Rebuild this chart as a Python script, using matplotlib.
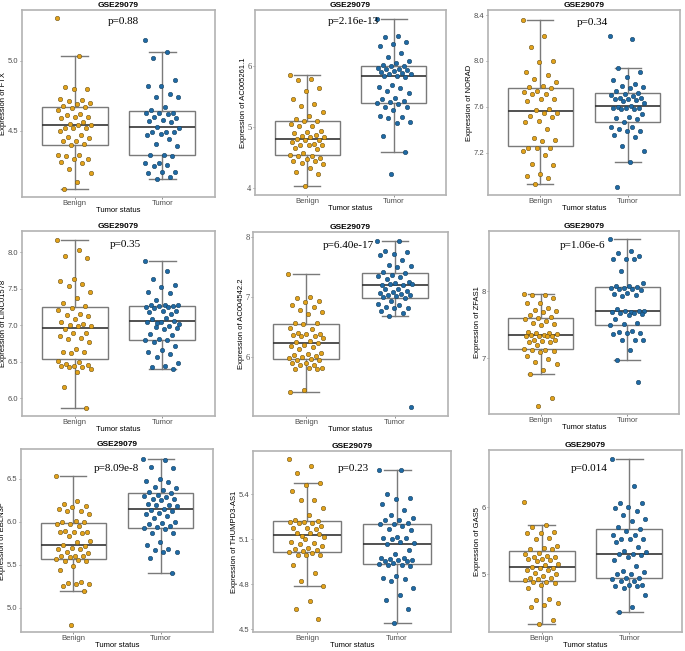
import numpy as np
import matplotlib
matplotlib.use("Agg")
from matplotlib import pyplot as plt
from matplotlib.ticker import FormatStrFormatter

DATASET = "GSE29079"
GROUPS = ["Benign", "Tumor"]
GENES = ["FTX", "AC005261.1", "NORAD", "LINC01578", "AC004542.2",
         "ZFAS1", "EBLN3P", "THUMPD3-AS1", "GAS5"]
P_VALUES = ["p=0.88", "p=2.16e-13", "p=0.34", "p=0.35", "p=6.40e-17",
            "p=1.06e-6", "p=8.09e-8", "p=0.23", "p=0.014"]

FTX_BENIGN = [5.30, 5.03, 4.81, 4.80, 4.80, 4.73, 4.72, 4.71, 4.70, 4.69, 4.68, 4.67,
              4.66, 4.65, 4.62, 4.61, 4.60, 4.60, 4.59, 4.56, 4.55, 4.54, 4.54, 4.52,
              4.52, 4.52, 4.50, 4.47, 4.46, 4.45, 4.43, 4.43, 4.41, 4.40, 4.33, 4.33,
              4.32, 4.30, 4.30, 4.28, 4.27, 4.23, 4.20, 4.14, 4.09]
FTX_TUMOR = [5.15, 5.06, 5.02, 4.86, 4.82, 4.82, 4.76, 4.74, 4.74, 4.67, 4.65, 4.63,
             4.63, 4.63, 4.62, 4.60, 4.59, 4.58, 4.57, 4.56, 4.53, 4.52, 4.49, 4.49,
             4.49, 4.48, 4.47, 4.44, 4.41, 4.39, 4.33, 4.33, 4.32, 4.27, 4.27, 4.26,
             4.25, 4.21, 4.21, 4.20, 4.17, 4.16]

AC005261_BENIGN = [5.85, 5.78, 5.76, 5.64, 5.59, 5.45, 5.38, 5.35, 5.24, 5.18, 5.13, 5.10,
                   5.09, 5.05, 5.02, 5.01, 4.94, 4.92, 4.91, 4.87, 4.85, 4.84, 4.84, 4.80,
                   4.79, 4.78, 4.76, 4.72, 4.71, 4.71, 4.70, 4.65, 4.64, 4.58, 4.55, 4.53,
                   4.52, 4.49, 4.47, 4.45, 4.44, 4.42, 4.39, 4.33, 4.27, 4.24, 4.03]
AC005261_TUMOR = [6.77, 6.49, 6.47, 6.38, 6.36, 6.33, 6.20, 6.15, 6.07, 6.04, 6.02, 6.00,
                  5.99, 5.97, 5.95, 5.94, 5.93, 5.92, 5.90, 5.88, 5.87, 5.86, 5.84, 5.83,
                  5.81, 5.69, 5.65, 5.64, 5.58, 5.55, 5.48, 5.45, 5.42, 5.40, 5.39, 5.38,
                  5.32, 5.32, 5.28, 5.18, 5.16, 5.15, 5.08, 5.07, 4.86, 4.59, 4.24]

NORAD_BENIGN = [8.36, 8.22, 8.12, 8.00, 7.99, 7.90, 7.88, 7.84, 7.82, 7.78, 7.77, 7.76,
                7.74, 7.73, 7.71, 7.71, 7.67, 7.67, 7.65, 7.58, 7.57, 7.55, 7.55, 7.52,
                7.51, 7.48, 7.47, 7.41, 7.33, 7.31, 7.30, 7.24, 7.24, 7.24, 7.21, 7.18,
                7.10, 7.09, 7.01, 7.00, 6.98, 6.93]
NORAD_TUMOR = [8.22, 8.19, 7.94, 7.90, 7.86, 7.83, 7.80, 7.78, 7.77, 7.76, 7.74, 7.72,
               7.71, 7.70, 7.69, 7.68, 7.68, 7.67, 7.67, 7.66, 7.65, 7.63, 7.61, 7.60,
               7.59, 7.59, 7.59, 7.58, 7.58, 7.54, 7.51, 7.50, 7.49, 7.47, 7.42, 7.42,
               7.41, 7.39, 7.39, 7.35, 7.34, 7.26, 7.21, 7.12, 6.90]

LINC01578_BENIGN = [8.17, 8.03, 7.95, 7.92, 7.64, 7.60, 7.56, 7.54, 7.45, 7.38, 7.30, 7.26,
                    7.24, 7.21, 7.15, 7.14, 7.13, 7.09, 7.05, 7.02, 7.01, 6.99, 6.99, 6.95,
                    6.90, 6.90, 6.85, 6.82, 6.81, 6.77, 6.68, 6.64, 6.63, 6.62, 6.51, 6.50,
                    6.47, 6.46, 6.45, 6.45, 6.43, 6.43, 6.40, 6.36, 6.15, 5.87]
LINC01578_TUMOR = [7.88, 7.74, 7.64, 7.55, 7.52, 7.45, 7.44, 7.35, 7.28, 7.28, 7.28, 7.27,
                   7.26, 7.25, 7.25, 7.24, 7.20, 7.19, 7.18, 7.16, 7.03, 7.02, 7.10, 7.08,
                   7.06, 7.05, 7.04, 6.99, 6.98, 6.96, 6.95, 6.88, 6.87, 6.81, 6.80, 6.80,
                   6.77, 6.72, 6.66, 6.63, 6.61, 6.57, 6.49, 6.45, 6.43, 6.40]

AC004542_BENIGN = [7.38, 7.00, 6.98, 6.94, 6.92, 6.86, 6.84, 6.78, 6.75, 6.72, 6.57, 6.56,
                   6.55, 6.49, 6.47, 6.40, 6.39, 6.38, 6.37, 6.35, 6.35, 6.32, 6.27, 6.25,
                   6.23, 6.20, 6.18, 6.16, 6.13, 6.06, 6.04, 6.03, 6.01, 6.00, 5.98, 5.97,
                   5.95, 5.94, 5.90, 5.89, 5.87, 5.86, 5.82, 5.81, 5.79, 5.79, 5.45, 5.42]
AC004542_TUMOR = [7.94, 7.94, 7.77, 7.75, 7.73, 7.70, 7.62, 7.53, 7.52, 7.51, 7.42, 7.40,
                  7.37, 7.35, 7.33, 7.31, 7.25, 7.23, 7.21, 7.20, 7.22, 7.215, 7.14, 7.13,
                  7.11, 7.09, 7.07, 7.06, 7.04, 7.03, 7.02, 7.00, 6.98, 6.93, 6.89, 6.86,
                  6.83, 6.82, 6.81, 6.77, 6.74, 6.68, 5.16]

ZFAS1_BENIGN = [7.96, 7.95, 7.94, 7.90, 7.83, 7.82, 7.75, 7.72, 7.71, 7.69, 7.64, 7.61,
                7.60, 7.58, 7.55, 7.53, 7.52, 7.50, 7.40, 7.38, 7.38, 7.37, 7.35, 7.35,
                7.34, 7.34, 7.33, 7.33, 7.28, 7.27, 7.26, 7.25, 7.24, 7.20, 7.14, 7.13,
                7.13, 7.11, 7.10, 7.04, 6.99, 6.94, 6.92, 6.82, 6.77, 6.40, 6.29]
ZFAS1_TUMOR = [8.78, 8.61, 8.58, 8.53, 8.49, 8.49, 8.48, 8.30, 8.13, 8.08, 8.08, 8.07,
               8.05, 8.05, 8.04, 8.03, 8.02, 7.98, 7.96, 7.94, 7.93, 7.70, 7.69, 7.73,
               7.71, 7.70, 7.69, 7.68, 7.67, 7.66, 7.64, 7.59, 7.53, 7.51, 7.50, 7.41,
               7.39, 7.38, 7.38, 7.37, 7.28, 7.28, 7.28, 7.13, 6.98, 6.64]

EBLN3P_BENIGN = [6.53, 6.24, 6.21, 6.18, 6.17, 6.15, 6.12, 6.12, 6.09, 6.01, 6.00, 6.00,
                 5.97, 5.97, 5.95, 5.89, 5.88, 5.88, 5.88, 5.87, 5.84, 5.78, 5.76, 5.73,
                 5.72, 5.70, 5.69, 5.69, 5.65, 5.64, 5.60, 5.60, 5.60, 5.59, 5.57, 5.56,
                 5.55, 5.54, 5.49, 5.44, 5.30, 5.29, 5.28, 5.28, 5.26, 5.20, 4.80]
EBLN3P_TUMOR = [6.73, 6.72, 6.64, 6.62, 6.50, 6.48, 6.46, 6.40, 6.39, 6.37, 6.35, 6.34,
                6.31, 6.30, 6.29, 6.27, 6.26, 6.25, 6.21, 6.20, 6.19, 6.18, 6.15, 6.14,
                6.13, 6.10, 6.09, 6.07, 6.04, 6.00, 5.99, 5.98, 5.95, 5.94, 5.93, 5.92,
                5.87, 5.87, 5.77, 5.73, 5.68, 5.67, 5.65, 5.65, 5.58, 5.40]

THUMPD3_BENIGN = [5.636, 5.59, 5.546, 5.475, 5.464, 5.42, 5.365, 5.36, 5.31, 5.265, 5.232,
                  5.225, 5.215, 5.215, 5.21, 5.206, 5.19, 5.177, 5.173, 5.168, 5.12, 5.118,
                  5.144, 5.14, 5.133, 5.10, 5.085, 5.073, 5.069, 5.056, 5.04, 5.036, 5.03,
                  5.023, 5.016, 5.007, 4.994, 4.994, 4.992, 4.926, 4.877, 4.824, 4.787,
                  4.687, 4.637, 4.566]
THUMPD3_TUMOR = [5.565, 5.565, 5.404, 5.377, 5.37, 5.338, 5.294, 5.265, 5.243, 5.232, 5.228,
                 5.206, 5.204, 5.20, 5.188, 5.166, 5.162, 5.113, 5.111, 5.107, 5.10, 5.073,
                 5.08, 5.07, 5.025, 5.003, 4.974, 4.972, 4.967, 4.963, 4.959, 4.954, 4.952,
                 4.941, 4.934, 4.93, 4.926, 4.919, 4.853, 4.84, 4.835, 4.82, 4.773, 4.73,
                 4.694, 4.637, 4.537]

GAS5_BENIGN = [6.08, 5.73, 5.70, 5.63, 5.62, 5.62, 5.54, 5.53, 5.42, 5.39, 5.38, 5.38,
               5.32, 5.31, 5.28, 5.26, 5.26, 5.23, 5.23, 5.21, 5.20, 5.16, 5.14, 5.11,
               5.10, 5.09, 5.07, 5.06, 5.02, 5.00, 4.98, 4.95, 4.94, 4.93, 4.91, 4.89,
               4.88, 4.87, 4.84, 4.79, 4.63, 4.62, 4.57, 4.54, 4.51, 4.32, 4.26]
GAS5_TUMOR = [6.72, 6.32, 6.06, 6.06, 6.00, 5.99, 5.94, 5.89, 5.82, 5.79, 5.70, 5.67,
              5.64, 5.58, 5.58, 5.52, 5.52, 5.52, 5.48, 5.41, 5.35, 5.33, 5.31, 5.30,
              5.29, 5.26, 5.22, 5.12, 5.05, 5.03, 5.01, 5.00, 4.95, 4.94, 4.93, 4.90,
              4.90, 4.84, 4.84, 4.83, 4.82, 4.79, 4.69, 4.51, 4.43]

BENIGN = [FTX_BENIGN, AC005261_BENIGN, NORAD_BENIGN, LINC01578_BENIGN, AC004542_BENIGN,
          ZFAS1_BENIGN, EBLN3P_BENIGN, THUMPD3_BENIGN, GAS5_BENIGN]
TUMOR = [FTX_TUMOR, AC005261_TUMOR, NORAD_TUMOR, LINC01578_TUMOR, AC004542_TUMOR,
         ZFAS1_TUMOR, EBLN3P_TUMOR, THUMPD3_TUMOR, GAS5_TUMOR]

YTICKS = [[4.5, 5.0], [4, 5, 6], [7.2, 7.6, 8.0, 8.4], [6.0, 6.5, 7.0, 7.5, 8.0],
          [6, 7, 8], [7, 8], [5.0, 5.5, 6.0, 6.5], [4.5, 4.8, 5.1, 5.4], [5, 6]]

# layout / styling (pixel boxes of each panel: left, top, right, bottom)
W, H = 685, 651
RECTS = [(22, 10, 215, 197), (255, 10, 446, 195), (488, 10, 680, 195),
         (22, 231, 215, 416), (253, 232, 448, 416), (489, 231, 679, 414),
         (21, 449, 213, 632), (253, 451, 451, 632), (489, 450, 682, 632)]
YLIMS = [(4.03, 5.36), (3.89, 6.91), (6.83, 8.445), (5.76, 8.29), (5.01, 8.09),
         (6.165, 8.905), (4.72, 6.846), (4.48, 5.69), (4.138, 6.857)]
TICK_FMT = ["%.1f", "%d", "%.1f", "%.1f", "%d", "%d", "%.1f", "%.1f", "%d"]
SERIF_TICKS = [False, True, False, False, True, False, False, False, False]
P_POS = [(0.525, 0.94), (0.513, 0.937), (0.544, 0.935), (0.534, 0.928), (0.487, 0.928),
         (0.493, 0.92), (0.495, 0.895), (0.506, 0.905), (0.52, 0.90)]
COLORS = ["#E3A21A", "#1F6AA5"]
EDGES = ["#6b5318", "#17415f"]

plt.rcParams["font.family"] = ["Liberation Sans", "DejaVu Sans"]

fig = plt.figure(figsize=(W / 100, H / 100), dpi=100)

for i, gene in enumerate(GENES):
    l, t, r, b = RECTS[i]
    ax = fig.add_axes([l / W, 1 - b / H, (r - l) / W, (b - t) / H])
    data = [BENIGN[i], TUMOR[i]]
    ax.boxplot(data, positions=[1, 2], widths=0.75, showfliers=False, whis=1.5,
               patch_artist=True, capwidths=0.3,
               boxprops=dict(facecolor="white", edgecolor="#7a7a7a", linewidth=1.0),
               whiskerprops=dict(color="#7a7a7a", linewidth=1.0),
               capprops=dict(color="#7a7a7a", linewidth=1.0),
               medianprops=dict(color="#333333", linewidth=1.2))
    for j, vals in enumerate(data):
        n = len(vals)
        offs = ((np.arange(n) * 0.618034) % 1 - 0.5) * 0.4
        ax.scatter(j + 1 + offs, vals, s=10, c=COLORS[j], edgecolors=EDGES[j],
                   linewidths=0.4, zorder=3)
    ax.set_xlim(0.4, 2.6)
    ax.set_ylim(*YLIMS[i])
    ax.set_xticks([1, 2])
    ax.set_xticklabels(GROUPS)
    ax.set_yticks(YTICKS[i])
    ax.yaxis.set_major_formatter(FormatStrFormatter(TICK_FMT[i]))
    ax.tick_params(length=1.5, width=0.6, color="#7f7f7f", labelsize=5.5,
                   labelcolor="#4d4d4d", pad=1)
    if SERIF_TICKS[i]:
        for lab in ax.get_yticklabels():
            lab.set_family("Liberation Serif")
            lab.set_fontsize(6)
    for s in ax.spines.values():
        s.set_color("#b3b3b3")
        s.set_linewidth(1.2)
    ax.set_title(DATASET, fontsize=6, fontweight="bold", pad=2.5)
    ax.set_xlabel("Tumor status", fontsize=5.5, labelpad=0)
    ax.set_ylabel("Expression of " + gene, fontsize=5.5, labelpad=0.5)
    ax.text(P_POS[i][0], P_POS[i][1], P_VALUES[i], transform=ax.transAxes,
            ha="center", va="center", fontsize=8, family="Liberation Serif")

fig.savefig("out.png", dpi=100)
